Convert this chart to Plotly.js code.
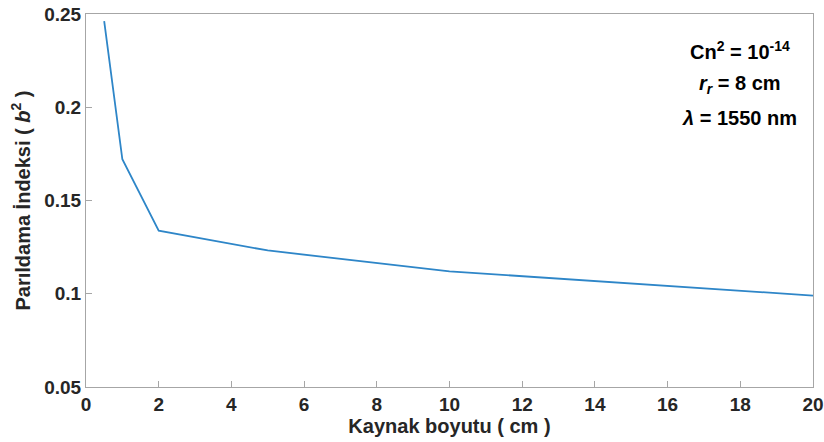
<!DOCTYPE html>
<html>
<head>
<meta charset="utf-8">
<script src="https://cdn.plot.ly/plotly-3.0.1.min.js"></script>
<style>html,body{margin:0;padding:0;background:#fff;}#chart{width:824px;height:442px;}</style>
</head>
<body>
<div id="chart"></div>
<script>
const sourceSize = [0.5, 1, 2, 5, 10, 15, 20];
const scintIndex = [0.2462, 0.1721, 0.1338, 0.1232, 0.1120, 0.1055, 0.0990];
const xTicks = [0, 2, 4, 6, 8, 10, 12, 14, 16, 18, 20];
const yTicks = [0.05, 0.1, 0.15, 0.2, 0.25];
const yTickText = ['0.05', '0.1', '0.15', '0.2', '0.25'];
const infoLines = ['Cn<sup>2</sup> = 10<sup>-14</sup>', '<i>r</i><sub><i>r</i></sub> = 8 cm', '<i>λ</i> = 1550 nm'];

const fontFam = 'Liberation Sans, Arial, sans-serif';
const trace = {
  x: sourceSize, y: scintIndex, type: 'scatter', mode: 'lines',
  line: {color: '#2e86c8', width: 1.8}, hoverinfo: 'none'
};
const axisCommon = {
  showline: true, mirror: true, linecolor: '#a6a6a6', linewidth: 1,
  ticks: 'inside', ticklen: 6, tickcolor: '#a6a6a6',
  showgrid: false, zeroline: false,
  tickfont: {family: fontFam, size: 19, color: '#262626', weight: 'bold'}
};
const layout = {
  width: 824, height: 442,
  margin: {l: 86, r: 11, t: 14, b: 55},
  paper_bgcolor: '#fff', plot_bgcolor: '#fff',
  showlegend: false,
  xaxis: Object.assign({}, axisCommon, {
    range: [0, 20], tickvals: xTicks, ticktext: xTicks.map(String),
    title: {text: 'Kaynak boyutu ( cm )', font: {family: fontFam, size: 20, color: '#262626', weight: 'bold'}, standoff: 0}
  }),
  yaxis: Object.assign({}, axisCommon, {
    range: [0.05, 0.25], tickvals: yTicks, ticktext: yTickText,
    title: {text: 'Parıldama İndeksi ( <i>b</i><sup>2</sup> )', font: {family: fontFam, size: 20, color: '#262626', weight: 'bold'}, standoff: 8}
  }),
  annotations: infoLines.map((t, i) => ({
    text: '<b>' + t + '</b>', xref: 'paper', yref: 'paper',
    x: 0.899, y: 0.903 - i * 0.091, xanchor: 'center', yanchor: 'middle',
    showarrow: false, font: {family: fontFam, size: 20, color: '#000'}
  }))
};
Plotly.newPlot('chart', [trace], layout, {displayModeBar: false, staticPlot: true});
</script>
</body>
</html>
